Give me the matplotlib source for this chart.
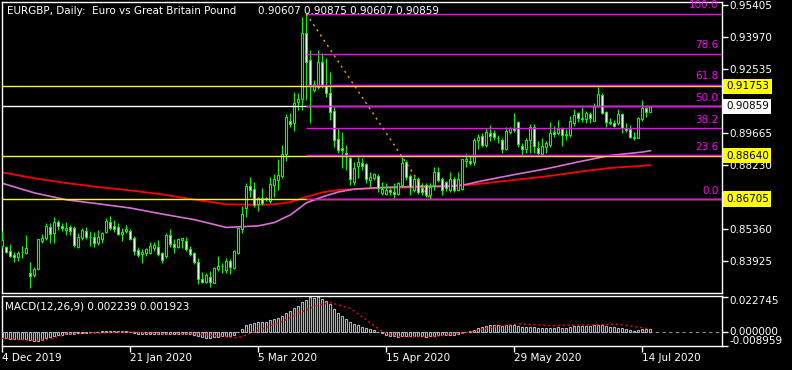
import numpy as np
import matplotlib
matplotlib.use("Agg")
import matplotlib.pyplot as plt
import matplotlib.transforms as mtransforms

# daily EURGBP candles, 4 Dec 2019 .. mid Jul 2020
opens = [0.8459, 0.8455, 0.8437, 0.8419, 0.8410, 0.8433, 0.8428, 0.8339, 0.8330, 0.8357,
         0.8482, 0.8495, 0.8545, 0.8518, 0.8567, 0.8549, 0.8531, 0.8545, 0.8540, 0.8455,
         0.8495, 0.8527, 0.8500, 0.8499, 0.8473, 0.8491, 0.8522, 0.8567, 0.8549, 0.8545,
         0.8513, 0.8527, 0.8527, 0.8495, 0.8442, 0.8424, 0.8428, 0.8428, 0.8451, 0.8455,
         0.8428, 0.8415, 0.8509, 0.8468, 0.8455, 0.8486, 0.8482, 0.8446, 0.8428, 0.8388,
         0.8312, 0.8298, 0.8321, 0.8294, 0.8357, 0.8370, 0.8352, 0.8392, 0.8361, 0.8428,
         0.8536, 0.8630, 0.8728, 0.8715, 0.8648, 0.8675, 0.8670, 0.8661, 0.8733, 0.8755,
         0.8773, 0.8872, 0.9020, 0.9011, 0.9106, 0.9119, 0.9415, 0.9294, 0.9159, 0.9173,
         0.9285, 0.9177, 0.9146, 0.9065, 0.8939, 0.8899, 0.8877, 0.8854, 0.8746, 0.8818,
         0.8832, 0.8827, 0.8755, 0.8764, 0.8773, 0.8697, 0.8693, 0.8710, 0.8702, 0.8693,
         0.8733, 0.8836, 0.8773, 0.8710, 0.8760, 0.8719, 0.8733, 0.8688, 0.8733, 0.8791,
         0.8760, 0.8746, 0.8710, 0.8760, 0.8710, 0.8715, 0.8841, 0.8841, 0.8836, 0.8935,
         0.8953, 0.8913, 0.8966, 0.8966, 0.8946, 0.8935, 0.8895, 0.8971, 0.8989, 0.9016,
         0.8908, 0.8895, 0.8935, 0.8993, 0.8899, 0.8872, 0.8904, 0.8913, 0.8971, 0.8966,
         0.8984, 0.8957, 0.8957, 0.9011, 0.9056, 0.9034, 0.9029, 0.9052, 0.9020, 0.9088,
         0.9137, 0.9061, 0.9016, 0.9011, 0.9011, 0.9052, 0.8989, 0.8984, 0.8948, 0.8944,
         0.9029, 0.9079, 0.90607]
highs = [0.8527, 0.8459, 0.8468, 0.8433, 0.8437, 0.8459, 0.8509, 0.8388, 0.8366, 0.8491,
         0.8513, 0.8563, 0.8563, 0.8590, 0.8576, 0.8563, 0.8567, 0.8554, 0.8549, 0.8518,
         0.8540, 0.8545, 0.8527, 0.8522, 0.8531, 0.8522, 0.8585, 0.8594, 0.8576, 0.8563,
         0.8540, 0.8554, 0.8536, 0.8504, 0.8455, 0.8446, 0.8451, 0.8477, 0.8477, 0.8486,
         0.8433, 0.8518, 0.8536, 0.8491, 0.8495, 0.8495, 0.8500, 0.8459, 0.8433, 0.8406,
         0.8343, 0.8339, 0.8348, 0.8366, 0.8415, 0.8384, 0.8406, 0.8401, 0.8442, 0.8540,
         0.8639, 0.8742, 0.8769, 0.8746, 0.8679, 0.8719, 0.8679, 0.8769, 0.8782, 0.8850,
         0.8913, 0.9052, 0.9056, 0.9150, 0.9146, 0.9488, 0.9500, 0.9339, 0.9204, 0.9339,
         0.9326, 0.9303, 0.9240, 0.9083, 0.8989, 0.8971, 0.8913, 0.8859, 0.8836, 0.8859,
         0.8854, 0.8832, 0.8791, 0.8787, 0.8782, 0.8746, 0.8742, 0.8719, 0.8742, 0.8746,
         0.8859, 0.8845, 0.8782, 0.8773, 0.8769, 0.8742, 0.8742, 0.8742, 0.8814, 0.8814,
         0.8769, 0.8751, 0.8791, 0.8769, 0.8791, 0.8850, 0.8877, 0.8863, 0.8944, 0.8962,
         0.8966, 0.8989, 0.9002, 0.8980, 0.8957, 0.8944, 0.8993, 0.8993, 0.9056, 0.9020,
         0.8921, 0.8944, 0.9007, 0.9007, 0.8930, 0.8944, 0.8930, 0.9016, 0.8998, 0.9025,
         0.8993, 0.8984, 0.9043, 0.9074, 0.9061, 0.9083, 0.9065, 0.9061, 0.9101, 0.9173,
         0.9146, 0.9065, 0.9034, 0.9025, 0.9074, 0.9056, 0.9011, 0.9002, 0.8971, 0.9038,
         0.9115, 0.9083, 0.90875]
lows = [0.8451, 0.8428, 0.8410, 0.8388, 0.8392, 0.8406, 0.8426, 0.8272, 0.8321, 0.8355,
        0.8473, 0.8486, 0.8473, 0.8473, 0.8531, 0.8527, 0.8509, 0.8509, 0.8455, 0.8453,
        0.8486, 0.8491, 0.8459, 0.8455, 0.8464, 0.8473, 0.8518, 0.8531, 0.8522, 0.8509,
        0.8482, 0.8518, 0.8486, 0.8419, 0.8410, 0.8384, 0.8415, 0.8424, 0.8437, 0.8415,
        0.8384, 0.8406, 0.8455, 0.8428, 0.8453, 0.8451, 0.8437, 0.8415, 0.8379, 0.8289,
        0.8294, 0.8294, 0.8276, 0.8294, 0.8348, 0.8339, 0.8339, 0.8334, 0.8357, 0.8424,
        0.8518, 0.8590, 0.8679, 0.8634, 0.8617, 0.8643, 0.8661, 0.8652, 0.8679, 0.8710,
        0.8764, 0.8841, 0.8993, 0.8975, 0.9070, 0.9070, 0.9115, 0.9011, 0.9150, 0.9164,
        0.9168, 0.9128, 0.9025, 0.8904, 0.8877, 0.8809, 0.8800, 0.8733, 0.8733, 0.8764,
        0.8800, 0.8742, 0.8724, 0.8755, 0.8702, 0.8688, 0.8688, 0.8688, 0.8675, 0.8688,
        0.8724, 0.8755, 0.8688, 0.8702, 0.8693, 0.8688, 0.8679, 0.8671, 0.8710, 0.8746,
        0.8688, 0.8706, 0.8702, 0.8702, 0.8708, 0.8710, 0.8814, 0.8823, 0.8823, 0.8895,
        0.8904, 0.8904, 0.8930, 0.8935, 0.8921, 0.8877, 0.8890, 0.8962, 0.8971, 0.8904,
        0.8868, 0.8877, 0.8877, 0.8877, 0.8868, 0.8868, 0.8877, 0.8904, 0.8948, 0.8957,
        0.8908, 0.8935, 0.8948, 0.8998, 0.9016, 0.9016, 0.9011, 0.9011, 0.9020, 0.9083,
        0.9052, 0.8993, 0.9002, 0.8993, 0.9002, 0.8966, 0.8971, 0.8944, 0.8935, 0.8944,
        0.9020, 0.9038, 0.90607]
closes = [0.8486, 0.8433, 0.8415, 0.8410, 0.8428, 0.8435, 0.8451, 0.8325, 0.8357, 0.8491,
          0.8495, 0.8549, 0.8513, 0.8567, 0.8549, 0.8540, 0.8540, 0.8527, 0.8464, 0.8500,
          0.8531, 0.8500, 0.8499, 0.8473, 0.8500, 0.8518, 0.8572, 0.8540, 0.8536, 0.8513,
          0.8522, 0.8536, 0.8491, 0.8437, 0.8419, 0.8433, 0.8446, 0.8459, 0.8464, 0.8424,
          0.8397, 0.8509, 0.8468, 0.8455, 0.8491, 0.8495, 0.8446, 0.8424, 0.8388, 0.8312,
          0.8298, 0.8330, 0.8298, 0.8361, 0.8370, 0.8368, 0.8392, 0.8366, 0.8437, 0.8540,
          0.8603, 0.8728, 0.8710, 0.8643, 0.8675, 0.8652, 0.8675, 0.8737, 0.8760, 0.8778,
          0.8872, 0.9038, 0.9007, 0.9101, 0.9119, 0.9415, 0.9285, 0.9177, 0.9186, 0.9285,
          0.9177, 0.9146, 0.9061, 0.8935, 0.8890, 0.8890, 0.8868, 0.8760, 0.8809, 0.8836,
          0.8818, 0.8760, 0.8769, 0.8782, 0.8719, 0.8715, 0.8710, 0.8702, 0.8693, 0.8742,
          0.8832, 0.8769, 0.8724, 0.8760, 0.8702, 0.8702, 0.8688, 0.8724, 0.8791, 0.8755,
          0.8710, 0.8719, 0.8760, 0.8710, 0.8760, 0.8850, 0.8850, 0.8832, 0.8935, 0.8948,
          0.8913, 0.8971, 0.8953, 0.8948, 0.8944, 0.8895, 0.8975, 0.8989, 0.8980, 0.8917,
          0.8895, 0.8935, 0.8993, 0.8908, 0.8877, 0.8908, 0.8921, 0.8966, 0.8962, 0.8984,
          0.8957, 0.8962, 0.9020, 0.9047, 0.9034, 0.9029, 0.9056, 0.9034, 0.9088, 0.9141,
          0.9056, 0.9016, 0.9011, 0.8998, 0.9052, 0.8989, 0.8980, 0.8948, 0.8944, 0.9034,
          0.9079, 0.9061, 0.90859]

# moving averages, sampled along the chart
ma_idx = [0, 8, 16, 24, 32, 40, 48, 56, 64, 68, 72, 76, 80, 84, 88, 96, 104, 112, 116,
          120, 128, 136, 144, 152, 160, 162]
ma_red = [0.8790, 0.8763, 0.8742, 0.8724, 0.8709, 0.8691, 0.8668, 0.8647, 0.8644, 0.8647,
          0.8656, 0.8680, 0.8700, 0.8711, 0.8715, 0.8720, 0.8723, 0.8728, 0.8733, 0.8740,
          0.8756, 0.8772, 0.8792, 0.8810, 0.8819, 0.8822]
ma_violet = [0.8741, 0.8698, 0.8667, 0.8649, 0.8630, 0.8603, 0.8578, 0.8543, 0.8550, 0.8565,
             0.8599, 0.8653, 0.8680, 0.8702, 0.8715, 0.8723, 0.8727, 0.8728, 0.8736, 0.8752,
             0.8780, 0.8806, 0.8837, 0.8866, 0.8881, 0.8887]

# MACD(12,26,9)
macd_hist = [-0.0038, -0.0040, -0.0043, -0.0046, -0.0047, -0.0046, -0.0043, -0.0052, -0.0058, -0.0057,
             -0.0050, -0.0042, -0.0033, -0.0025, -0.0021, -0.0017, -0.0013, -0.0010, -0.0010, -0.0008,
             -0.0007, -0.0004, -0.0003, -0.0003, 0.0000, 0.0004, 0.0007, 0.0007, 0.0006, 0.0004,
             0.0003, 0.0003, -0.0002, -0.0007, -0.0010, -0.0012, -0.0013, -0.0012, -0.0011, -0.0012,
             -0.0015, -0.0010, -0.0010, -0.0011, -0.0010, -0.0010, -0.0012, -0.0015, -0.0020, -0.0029,
             -0.0035, -0.0038, -0.0038, -0.0035, -0.0032, -0.0029, -0.0025, -0.0023, -0.0017, 0.0000,
             0.0018, 0.0042, 0.0054, 0.0060, 0.0063, 0.0065, 0.0067, 0.0075, 0.0083, 0.0092,
             0.0104, 0.0125, 0.0138, 0.0154, 0.0167, 0.0196, 0.0210, 0.0227, 0.0222, 0.0225,
             0.0215, 0.0200, 0.0180, 0.0150, 0.0125, 0.0104, 0.0083, 0.0063, 0.0050, 0.0042,
             0.0033, 0.0025, 0.0017, 0.0010, 0.0002, -0.0008, -0.0017, -0.0025, -0.0029, -0.0032,
             -0.0025, -0.0023, -0.0025, -0.0025, -0.0027, -0.0028, -0.0030, -0.0028, -0.0023, -0.0022,
             -0.0022, -0.0021, -0.0018, -0.0017, -0.0015, -0.0007, 0.0000, 0.0004, 0.0015, 0.0025,
             0.0029, 0.0038, 0.0042, 0.0043, 0.0043, 0.0040, 0.0042, 0.0044, 0.0046, 0.0040,
             0.0033, 0.0030, 0.0033, 0.0030, 0.0025, 0.0023, 0.0023, 0.0025, 0.0027, 0.0029,
             0.0028, 0.0028, 0.0032, 0.0036, 0.0038, 0.0038, 0.0040, 0.0040, 0.0043, 0.0048,
             0.0046, 0.0040, 0.0035, 0.0029, 0.0028, 0.0023, 0.0018, 0.0013, 0.0008, 0.0013,
             0.0018, 0.0020, 0.002239]
sig_idx = [0, 8, 12, 16, 24, 33, 41, 49, 58, 60, 63, 66, 70, 74, 79, 82, 87, 91, 95, 99,
           108, 116, 124, 129, 137, 145, 154, 162]
sig_val = [-0.0041, -0.0056, -0.0047, -0.0013, -0.0008, 0.0000, -0.0015, -0.0013, -0.0037, -0.0030,
           0.0002, 0.0030, 0.0067, 0.0121, 0.0175, 0.0190, 0.0153, 0.0078, 0.0002, -0.0030,
           -0.0030, -0.0005, 0.0039, 0.0052, 0.0041, 0.0045, 0.0050, 0.001923]

# fibonacci retracement and horizontal levels
fib_start, fib_end = 76, 107
fib_high, fib_low = 0.95005, 0.86705
fib_levels = [0.0, 23.6, 38.2, 50.0, 61.8, 78.6, 100.0]
yellow_levels = [0.91753, 0.88640, 0.86705]
bid = 0.90859
price_ticks = [0.95405, 0.93970, 0.92535, 0.91100, 0.89665, 0.88230, 0.86795, 0.85360, 0.83925]
# two of the scale labels sit under the price boxes, only their tick marks show
hidden_ticks = [0.91100, 0.86795]
date_idx = [0, 32, 64, 96, 128, 160]
date_labels = ['4 Dec 2019', '21 Jan 2020', '5 Mar 2020', '15 Apr 2020', '29 May 2020', '14 Jul 2020']

W, H = 792, 370
GREEN = '#00ff00'
FS = 7.5
fig = plt.figure(figsize=(W / 100, H / 100), dpi=100, facecolor='black')


def px_axes(x0, y0, x1, y1):
    return fig.add_axes([x0 / W, 1 - y1 / H, (x1 - x0) / W, (y1 - y0) / H])


ax = px_axes(2, 2, 722, 293)
axm = px_axes(2, 296, 722, 346)
xlim = (-0.075, 179.9)

for a in (ax, axm):
    a.set_facecolor('black')
    a.set_xlim(*xlim)
    for s in a.spines.values():
        s.set_color('white')
        s.set_linewidth(1)

# candles
o = np.array(opens)
h = np.array(highs)
l = np.array(lows)
c = np.array(closes)
x = np.arange(len(c))
up = c >= o
ax.vlines(x, l, h, color=GREEN, lw=0.8, zorder=3)
ax.bar(x[up], (c - o)[up], bottom=o[up], width=0.55, color='black',
       edgecolor=GREEN, lw=0.8, zorder=4)
ax.bar(x[~up], (o - c)[~up], bottom=c[~up], width=0.55, color='white',
       edgecolor=GREEN, lw=0.8, zorder=4)

ax.plot(ma_idx, ma_red, color='red', lw=1.3, zorder=2)
ax.plot(ma_idx, ma_violet, color='#da70d6', lw=1.2, zorder=2)

for lv in yellow_levels:
    ax.axhline(lv, color='yellow', lw=1, zorder=5)
ax.axhline(bid, color='white', lw=1, zorder=5)

ytrans = mtransforms.blended_transform_factory(ax.transAxes, ax.transData)
for f in fib_levels:
    p = fib_low + (fib_high - fib_low) * f / 100
    ax.hlines(p, fib_start, xlim[1], color='#ff00ff', lw=1, zorder=6)
    ax.annotate('%.1f' % f, xy=(1, p), xycoords=ytrans, xytext=(-2.5, 2.5),
                textcoords='offset points', ha='right', va='bottom',
                color='#ff00ff', fontsize=FS, zorder=7)
ax.plot([fib_start, fib_end], [fib_high, fib_low], color='#ffa500',
        ls=(0, (1.5, 3)), lw=1, zorder=6)

ax.set_ylim(0.82490, 0.95539)
ax.set_xticks([])
ax.yaxis.tick_right()
ax.set_yticks(price_ticks)
ax.set_yticklabels(['' if t in hidden_ticks else '%.5f' % t for t in price_ticks])
ax.tick_params(axis='y', colors='white', length=4, width=1, labelsize=FS, pad=1)

for val, col in [(0.91753, 'yellow'), (bid, 'white'), (0.88640, 'yellow'), (0.86705, 'yellow')]:
    ax.text(1 + 4 / 720, val, '%.5f' % val, transform=ytrans, ha='left', va='center',
            color='black', fontsize=FS, clip_on=False, zorder=10,
            bbox=dict(boxstyle='square,pad=0.25', fc=col, ec='none'))

fig.text(7 / W, 1 - 11 / H, 'EURGBP, Daily:  Euro vs Great Britain Pound', color='white',
         fontsize=FS, va='center', ha='left')
fig.text(258 / W, 1 - 11 / H, '0.90607 0.90875 0.90607 0.90859', color='white',
         fontsize=FS, va='center', ha='left')

# MACD panel
axm.bar(x, macd_hist, width=0.5, color='none', edgecolor='#a8b4c8', lw=0.8, zorder=3)
axm.axhline(0, color='#8090a8', ls=(0, (3, 3)), lw=0.8, zorder=2)
axm.plot(sig_idx, sig_val, color='red', ls=(0, (1.5, 2)), lw=1, zorder=4)
axm.set_ylim(-0.0091, 0.0233)
axm.yaxis.tick_right()
axm.set_yticks([0.022745, 0.0, -0.008959])
axm.set_yticklabels([])
axm.tick_params(axis='y', colors='white', length=4, width=1)
mtrans = mtransforms.blended_transform_factory(axm.transAxes, axm.transData)
axm.text(1 + 7 / 720, 0.0233, '0.022745', transform=mtrans, color='white', fontsize=FS,
         ha='left', va='top', clip_on=False)
axm.text(1 + 7 / 720, 0.0, '0.000000', transform=mtrans, color='white', fontsize=FS,
         ha='left', va='center', clip_on=False)
axm.text(1 + 7 / 720, -0.0091, '-0.008959', transform=mtrans, color='white', fontsize=FS,
         ha='left', va='bottom', clip_on=False)
fig.text(5 / W, 1 - 306.5 / H, 'MACD(12,26,9) 0.002239 0.001923', color='white',
         fontsize=FS, va='center', ha='left')

axm.set_xticks(date_idx)
axm.set_xticklabels(date_labels)
axm.tick_params(axis='x', colors='white', length=4, width=1, labelsize=FS, pad=1)
for lbl in axm.get_xticklabels():
    lbl.set_ha('left')

fig.savefig('out.png', dpi=100, facecolor='black')
